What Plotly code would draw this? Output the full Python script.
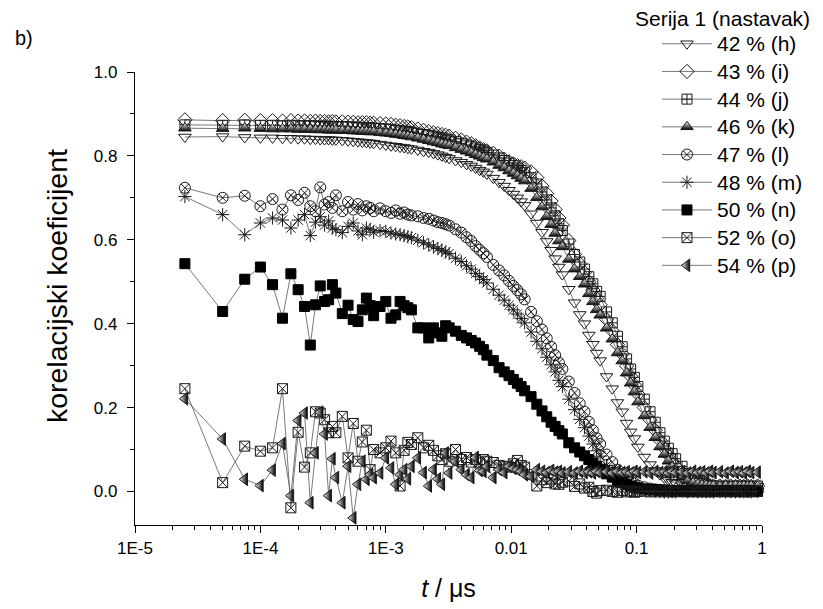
import plotly.graph_objects as go

# ---- data -------------------------------------------------------------
DT_US = 2.5e-5  # correlator sample time (µs)
LAG_CHANNELS = [
    1, 2, 3, 4, 5, 6, 7, 8, 9, 10, 11, 12, 13, 14, 15, 16,
    18, 20, 22, 24, 26, 28, 30, 32,
    36, 40, 44, 48, 52, 56, 60, 64,
    72, 80, 88, 96, 104, 112, 120, 128,
    144, 160, 176, 192, 208, 224, 240, 256,
    288, 320, 352, 384, 416, 448, 480, 512,
    576, 640, 704, 768, 832, 896, 960, 1024,
    1152, 1280, 1408, 1536, 1664, 1792, 1920, 2048,
    2304, 2560, 2816, 3072, 3328, 3584, 3840, 4096,
    4608, 5120, 5632, 6144, 6656, 7168, 7680, 8192,
    9216, 10240, 11264, 12288, 13312, 14336, 15360, 16384,
    18432, 20480, 22528, 24576, 26624, 28672, 30720, 32768,
    36864]

H_42 = [
    0.845, 0.846, 0.844, 0.843, 0.843, 0.842, 0.842, 0.841,
    0.841, 0.840, 0.840, 0.839, 0.839, 0.839, 0.838, 0.838,
    0.837, 0.836, 0.835, 0.834, 0.833, 0.832, 0.831, 0.830,
    0.828, 0.826, 0.824, 0.823, 0.821, 0.820, 0.818, 0.817,
    0.814, 0.811, 0.809, 0.806, 0.803, 0.800, 0.797, 0.794,
    0.789, 0.785, 0.780, 0.776, 0.771, 0.766, 0.762, 0.757,
    0.747, 0.737, 0.728, 0.718, 0.709, 0.700, 0.691, 0.682,
    0.662, 0.640, 0.618, 0.596, 0.575, 0.555, 0.535, 0.517,
    0.482, 0.450, 0.422, 0.400, 0.373, 0.351, 0.330, 0.312,
    0.274, 0.245, 0.212, 0.190, 0.163, 0.142, 0.126, 0.106,
    0.082, 0.064, 0.050, 0.040, 0.032, 0.027, 0.022, 0.019,
    0.016, 0.014, 0.013, 0.012, 0.012, 0.011, 0.012, 0.011,
    0.012, 0.011, 0.012, 0.011, 0.012, 0.011, 0.012, 0.011,
    0.012]

I_43 = [
    0.886, 0.884, 0.885, 0.884, 0.884, 0.883, 0.884, 0.883,
    0.883, 0.882, 0.883, 0.882, 0.882, 0.881, 0.882, 0.881,
    0.881, 0.880, 0.880, 0.879, 0.879, 0.879, 0.878, 0.878,
    0.877, 0.876, 0.875, 0.873, 0.872, 0.870, 0.869, 0.867,
    0.864, 0.861, 0.858, 0.855, 0.853, 0.851, 0.849, 0.847,
    0.842, 0.838, 0.833, 0.829, 0.824, 0.819, 0.815, 0.812,
    0.806, 0.799, 0.792, 0.786, 0.781, 0.777, 0.774, 0.771,
    0.762, 0.748, 0.728, 0.710, 0.692, 0.672, 0.652, 0.635,
    0.598, 0.565, 0.543, 0.522, 0.500, 0.480, 0.460, 0.445,
    0.410, 0.383, 0.350, 0.328, 0.299, 0.275, 0.254, 0.232,
    0.200, 0.171, 0.146, 0.122, 0.103, 0.086, 0.072, 0.060,
    0.046, 0.033, 0.025, 0.020, 0.017, 0.015, 0.014, 0.013,
    0.013, 0.012, 0.013, 0.012, 0.013, 0.012, 0.013, 0.012,
    0.013]

J_44 = [
    0.874, 0.873, 0.874, 0.873, 0.873, 0.872, 0.873, 0.872,
    0.872, 0.872, 0.871, 0.871, 0.871, 0.871, 0.870, 0.870,
    0.870, 0.869, 0.869, 0.868, 0.868, 0.867, 0.867, 0.866,
    0.865, 0.864, 0.863, 0.861, 0.860, 0.859, 0.858, 0.856,
    0.854, 0.851, 0.849, 0.847, 0.845, 0.843, 0.840, 0.838,
    0.834, 0.830, 0.826, 0.823, 0.819, 0.815, 0.812, 0.808,
    0.802, 0.795, 0.789, 0.783, 0.777, 0.771, 0.765, 0.760,
    0.748, 0.733, 0.714, 0.695, 0.676, 0.657, 0.638, 0.622,
    0.590, 0.565, 0.547, 0.530, 0.512, 0.495, 0.477, 0.465,
    0.428, 0.402, 0.370, 0.345, 0.316, 0.292, 0.272, 0.250,
    0.220, 0.190, 0.165, 0.140, 0.120, 0.103, 0.090, 0.078,
    0.060, 0.043, 0.031, 0.024, 0.019, 0.016, 0.014, 0.013,
    0.013, 0.012, 0.013, 0.012, 0.013, 0.012, 0.013, 0.012,
    0.013]

K_46 = [
    0.866, 0.865, 0.866, 0.865, 0.864, 0.864, 0.864, 0.863,
    0.863, 0.863, 0.862, 0.862, 0.862, 0.861, 0.861, 0.861,
    0.860, 0.860, 0.859, 0.859, 0.858, 0.858, 0.857, 0.857,
    0.855, 0.854, 0.853, 0.851, 0.850, 0.848, 0.847, 0.845,
    0.842, 0.839, 0.836, 0.833, 0.831, 0.828, 0.826, 0.824,
    0.819, 0.815, 0.811, 0.807, 0.803, 0.799, 0.795, 0.792,
    0.785, 0.777, 0.771, 0.764, 0.758, 0.752, 0.746, 0.740,
    0.722, 0.700, 0.678, 0.655, 0.636, 0.615, 0.597, 0.583,
    0.553, 0.530, 0.512, 0.494, 0.471, 0.452, 0.433, 0.420,
    0.389, 0.363, 0.330, 0.311, 0.282, 0.258, 0.237, 0.213,
    0.180, 0.152, 0.128, 0.106, 0.088, 0.072, 0.058, 0.047,
    0.034, 0.025, 0.020, 0.017, 0.015, 0.014, 0.013, 0.013,
    0.012, 0.013, 0.012, 0.013, 0.012, 0.013, 0.012, 0.013,
    0.012]

L_47 = [
    0.724, 0.700, 0.705, 0.680, 0.697, 0.672, 0.706, 0.695,
    0.712, 0.680, 0.668, 0.725, 0.684, 0.690, 0.676, 0.706,
    0.668, 0.690, 0.672, 0.685, 0.670, 0.680, 0.676, 0.668,
    0.675, 0.668, 0.664, 0.670, 0.662, 0.665, 0.660, 0.658,
    0.656, 0.652, 0.650, 0.646, 0.642, 0.640, 0.637, 0.634,
    0.625, 0.617, 0.606, 0.597, 0.585, 0.576, 0.568, 0.559,
    0.540, 0.527, 0.515, 0.502, 0.490, 0.480, 0.470, 0.458,
    0.428, 0.406, 0.386, 0.365, 0.345, 0.325, 0.307, 0.292,
    0.262, 0.235, 0.210, 0.190, 0.166, 0.146, 0.127, 0.113,
    0.088, 0.070, 0.052, 0.042, 0.032, 0.025, 0.019, 0.014,
    0.010, 0.007, 0.005, 0.004, 0.003, 0.002, 0.002, 0.001,
    0.001, 0.000, 0.001, 0.000, 0.001, 0.000, 0.001, 0.000,
    0.000, 0.001, 0.000, 0.001, 0.000, 0.001, 0.000, 0.001,
    0.000]

M_48 = [
    0.703, 0.660, 0.612, 0.640, 0.652, 0.647, 0.628, 0.647,
    0.660, 0.610, 0.642, 0.655, 0.635, 0.645, 0.628, 0.624,
    0.617, 0.632, 0.640, 0.621, 0.612, 0.628, 0.625, 0.618,
    0.622, 0.620, 0.616, 0.614, 0.612, 0.610, 0.607, 0.605,
    0.599, 0.593, 0.588, 0.583, 0.579, 0.575, 0.571, 0.567,
    0.556, 0.548, 0.538, 0.530, 0.520, 0.512, 0.505, 0.497,
    0.482, 0.468, 0.456, 0.444, 0.433, 0.423, 0.412, 0.402,
    0.380, 0.358, 0.340, 0.320, 0.302, 0.285, 0.265, 0.250,
    0.220, 0.195, 0.172, 0.152, 0.132, 0.113, 0.097, 0.084,
    0.062, 0.048, 0.034, 0.026, 0.019, 0.014, 0.010, 0.007,
    0.004, 0.002, 0.001, 0.000, -0.001, -0.001, 0.000, -0.001,
    0.000, -0.001, 0.000, -0.001, 0.000, -0.001, 0.000, -0.001,
    0.000, -0.001, 0.000, -0.001, 0.000, -0.001, 0.000, -0.001,
    0.000]

N_50 = [
    0.543, 0.429, 0.506, 0.535, 0.493, 0.413, 0.519, 0.481,
    0.441, 0.349, 0.445, 0.490, 0.453, 0.457, 0.493, 0.473,
    0.424, 0.444, 0.410, 0.405, 0.433, 0.461, 0.443, 0.419,
    0.441, 0.453, 0.413, 0.421, 0.453, 0.443, 0.438, 0.433,
    0.390, 0.390, 0.366, 0.390, 0.378, 0.370, 0.395, 0.390,
    0.382, 0.372, 0.366, 0.360, 0.354, 0.346, 0.338, 0.325,
    0.312, 0.295, 0.285, 0.276, 0.267, 0.258, 0.250, 0.240,
    0.226, 0.208, 0.192, 0.178, 0.165, 0.155, 0.145, 0.137,
    0.116, 0.104, 0.094, 0.085, 0.076, 0.068, 0.060, 0.053,
    0.042, 0.034, 0.026, 0.021, 0.017, 0.013, 0.010, 0.008,
    0.006, 0.005, 0.004, 0.003, 0.003, 0.002, 0.002, 0.002,
    0.002, 0.001, 0.002, 0.001, 0.002, 0.001, 0.002, 0.001,
    0.002, 0.001, 0.002, 0.001, 0.002, 0.001, 0.002, 0.001,
    0.001]

O_52 = [
    0.245, 0.021, 0.108, 0.096, 0.104, 0.245, -0.039, 0.141,
    0.058, 0.092, 0.190, 0.187, 0.171, 0.140, 0.155, 0.140,
    0.179, 0.080, 0.162, 0.072, 0.118, 0.146, 0.052, 0.100,
    0.092, 0.104, 0.120, 0.092, 0.013, 0.098, 0.117, 0.112,
    0.128, 0.104, 0.110, 0.098, 0.085, 0.076, 0.090, 0.072,
    0.100, 0.076, 0.081, 0.070, 0.076, 0.068, 0.076, 0.072,
    0.069, 0.062, 0.060, 0.058, 0.066, 0.074, 0.062, 0.058,
    0.040, 0.013, 0.028, 0.021, 0.030, 0.018, 0.017, 0.022,
    0.025, 0.012, 0.018, 0.008, 0.010, 0.000, -0.004, 0.002,
    0.003, 0.000, -0.002, 0.002, -0.001, 0.001, -0.002, 0.000,
    0.001, -0.001, 0.001, -0.001, 0.001, -0.001, 0.001, -0.001,
    0.001, -0.001, 0.001, -0.001, 0.001, -0.001, 0.001, -0.001,
    0.001, -0.001, 0.001, -0.001, 0.001, -0.001, 0.001, -0.001,
    0.000]

P_54 = [
    0.221, 0.125, 0.029, 0.014, 0.051, 0.114, -0.010, 0.169,
    0.187, -0.027, 0.092, 0.189, 0.137, -0.010, 0.078, 0.033,
    -0.027, 0.060, -0.063, 0.017, 0.072, 0.029, 0.040, 0.033,
    0.044, 0.080, 0.056, 0.017, 0.040, 0.052, 0.030, 0.060,
    0.080, 0.045, 0.013, 0.052, 0.030, 0.017, 0.092, 0.044,
    0.072, 0.052, 0.040, 0.033, 0.081, 0.050, 0.048, 0.060,
    0.033, 0.052, 0.045, 0.060, 0.055, 0.052, 0.048, 0.040,
    0.036, 0.052, 0.048, 0.045, 0.050, 0.046, 0.048, 0.044,
    0.047, 0.044, 0.048, 0.045, 0.047, 0.044, 0.048, 0.045,
    0.047, 0.044, 0.048, 0.045, 0.047, 0.044, 0.048, 0.045,
    0.047, 0.044, 0.048, 0.045, 0.047, 0.044, 0.048, 0.045,
    0.047, 0.044, 0.048, 0.045, 0.047, 0.044, 0.048, 0.045,
    0.047, 0.044, 0.048, 0.045, 0.047, 0.044, 0.048, 0.045,
    0.046]

SERIES_NAMES = ["42 % (h)", "43 % (i)", "44 % (j)", "46 % (k)", "47 % (l)",
                "48 % (m)", "50 % (n)", "52 % (o)", "54 % (p)"]
SERIES_VALUES = [H_42, I_43, J_44, K_46, L_47, M_48, N_50, O_52, P_54]

X_TICK_VALS = [1e-5, 1e-4, 1e-3, 1e-2, 1e-1, 1]
X_TICK_TEXT = ["1E-5", "1E-4", "1E-3", "0.01", "0.1", "1"]
Y_TICK_VALS = [0.0, 0.2, 0.4, 0.6, 0.8, 1.0]
Y_TICK_TEXT = ["0.0", "0.2", "0.4", "0.6", "0.8", "1.0"]

LEGEND_TITLE = "Serija 1 (nastavak)"
PANEL_LABEL = "b)"
X_TITLE = "<i>t</i> / μs"
Y_TITLE = "korelacijski koeficijent"

# ---- styling ----------------------------------------------------------
FONT = "Arial, 'Liberation Sans', sans-serif"
OUT = "#1a1a1a"
LINE = "#555555"

MARKERS = [
    dict(symbol="triangle-down-open", size=11, color=OUT, line=dict(color=OUT, width=1)),
    dict(symbol="diamond-open", size=11, color=OUT, line=dict(color=OUT, width=1)),
    dict(symbol="square-cross-open", size=10, color=OUT, line=dict(color=OUT, width=1)),
    dict(symbol="triangle-up", size=11, color="white",
         gradient=dict(type="vertical", color="black"), line=dict(color=OUT, width=1)),
    dict(symbol="circle-x-open", size=11, color=OUT, line=dict(color=OUT, width=1)),
    dict(symbol="asterisk-open", size=11, color=OUT, line=dict(color=OUT, width=1)),
    dict(symbol="square", size=10, color="black", line=dict(color="black", width=1)),
    dict(symbol="square-x-open", size=10, color=OUT, line=dict(color=OUT, width=1)),
    dict(symbol="triangle-left", size=11, color="white",
         gradient=dict(type="horizontal", color="black"), line=dict(color=OUT, width=1)),
]

t_us = [c * DT_US for c in LAG_CHANNELS]

fig = go.Figure()
for name, vals, mk in zip(SERIES_NAMES, SERIES_VALUES, MARKERS):
    fig.add_trace(go.Scatter(
        x=t_us, y=vals, name="<span style='font-size:21px'>%s</span>" % name,
        mode="lines+markers", line=dict(color=LINE, width=0.8), marker=mk,
        cliponaxis=False))

minor_x = [m * 10.0 ** e for e in range(-5, 0) for m in range(2, 10)]

# page body has an 8 px margin; the figure is sized so that the plot area
# sits where the reference has it inside the 823x609 window
fig.update_layout(
    width=815, height=601, autosize=False,
    margin=dict(l=127, r=61, t=64, b=84),
    paper_bgcolor="white", plot_bgcolor="white",
    font=dict(family=FONT, color="black", size=17),
    showlegend=True,
    legend=dict(x=0.8325, y=1.104, xanchor="left", yanchor="top",
                font=dict(family=FONT, size=19, color="black"),
                bgcolor="rgba(0,0,0,0)", itemwidth=50,
                tracegroupgap=0),
    xaxis=dict(type="log", range=[-5, 0], showline=True, linecolor="black",
               linewidth=1.3, ticks="outside", ticklen=7, tickwidth=1.2,
               tickcolor="black", tickmode="array", tickvals=X_TICK_VALS,
               ticktext=X_TICK_TEXT, showgrid=False, zeroline=False,
               tickfont=dict(size=17),
               minor=dict(tickmode="array", tickvals=minor_x, ticks="outside",
                          ticklen=4, tickwidth=1, tickcolor="black", showgrid=False),
               title=dict(text=X_TITLE, font=dict(size=25), standoff=22)),
    yaxis=dict(range=[-0.08, 1.0], showline=True, linecolor="black",
               linewidth=1.3, ticks="outside", ticklen=7, tickwidth=1.2,
               tickcolor="black", tickmode="array", tickvals=Y_TICK_VALS,
               ticktext=Y_TICK_TEXT, showgrid=False, zeroline=False,
               tickfont=dict(size=17), ticklabelstandoff=6,
               minor=dict(tickmode="array", tickvals=[0.1, 0.3, 0.5, 0.7, 0.9],
                          ticks="outside", ticklen=4, tickwidth=1,
                          tickcolor="black", showgrid=False)),
    annotations=[
        dict(text=Y_TITLE, xref="paper", yref="paper", x=-0.124, y=0.528,
             xanchor="center", yanchor="middle", textangle=-90,
             showarrow=False, font=dict(family=FONT, size=28.5, color="black")),
        dict(text=LEGEND_TITLE, xref="paper", yref="paper",
             x=1.079, y=1.117, xanchor="right", yanchor="middle",
             showarrow=False, font=dict(family=FONT, size=21, color="black")),
        dict(text=PANEL_LABEL, xref="paper", yref="paper", x=-0.195, y=1.075,
             xanchor="left", yanchor="middle", showarrow=False,
             font=dict(family=FONT, size=20, color="black")),
    ],
)

fig.write_html("out.html")
